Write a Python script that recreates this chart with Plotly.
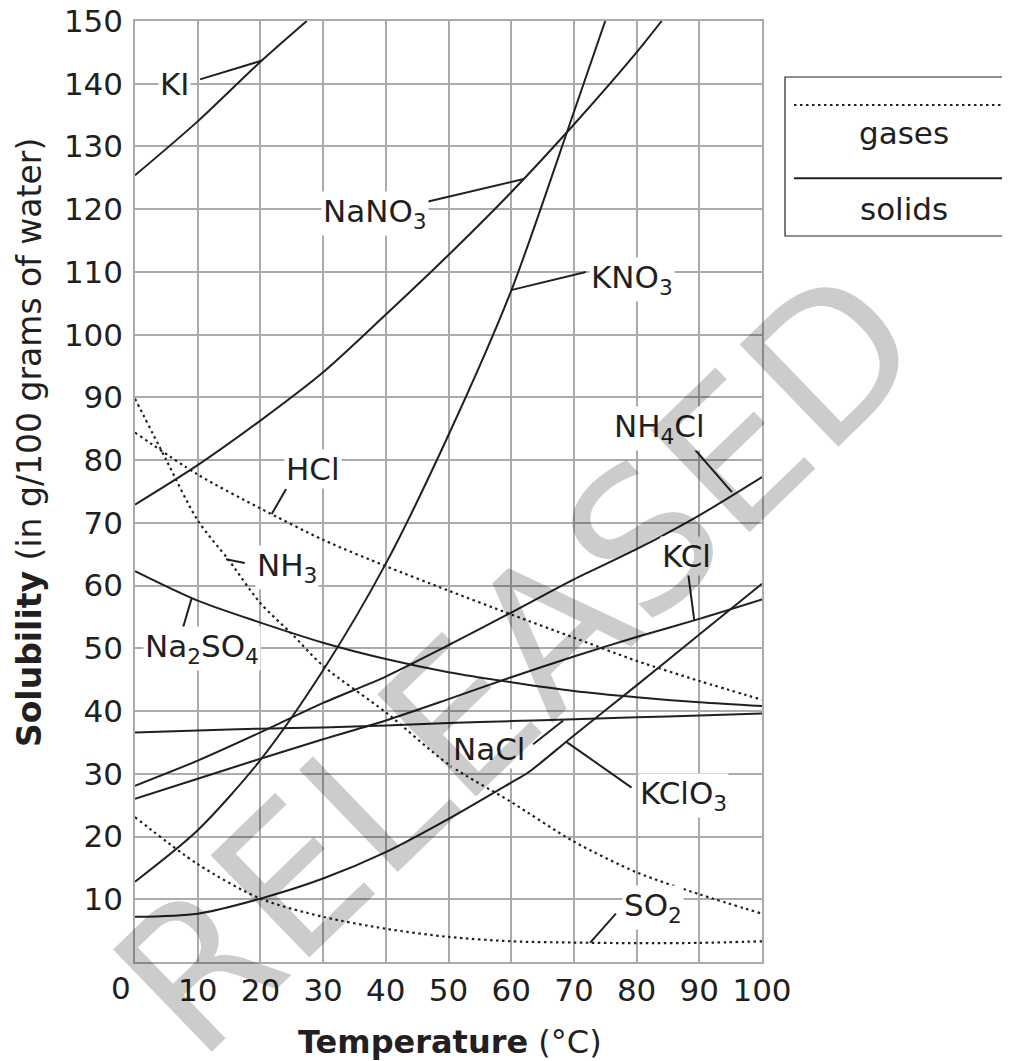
import plotly.graph_objects as go

# ---------------- data ----------------
T = [0, 10, 20, 30, 40, 50, 60, 70, 80, 90, 100]

KI_T = [0, 10, 20, 27.4]
KI = [125.4, 134, 143.5, 150]

NaNO3_T = [0, 10, 20, 30, 40, 50, 60, 70, 80, 84]
NaNO3 = [72.9, 79.2, 86.3, 94, 103.2, 112.7, 122.7, 133.5, 145, 150]

KNO3_T = [0, 10, 20, 30, 40, 50, 60, 70, 75]
KNO3 = [12.8, 21, 32.2, 46.5, 63.5, 84, 107, 135.5, 150]

NH4Cl = [28.1, 32.1, 36.6, 41.3, 45.5, 50.5, 55.7, 61, 65.8, 71.2, 77.3]
KCl = [26, 29.2, 32.4, 35.5, 38.5, 41.9, 45.4, 48.7, 51.8, 54.7, 57.8]
NaCl = [36.6, 36.9, 37.2, 37.4, 37.7, 38.1, 38.4, 38.7, 39, 39.3, 39.6]
Na2SO4 = [62.3, 57.6, 54.1, 50.9, 48.3, 46.2, 44.6, 43.2, 42.2, 41.4, 40.8]

KClO3_T = [0, 10, 20, 30, 40, 50, 60, 62.7, 70, 80, 90, 100]
KClO3 = [7.2, 7.7, 10.1, 13.3, 17.5, 22.8, 28.6, 30.2, 36.1, 44.1, 52.2, 60.3]

HCl = [84.4, 77.7, 72.3, 67.3, 63.1, 59.2, 55.4, 51.7, 48, 44.8, 41.8]

NH3_T = [0, 5, 10, 15, 20, 25, 30, 40, 50, 60, 70, 80, 90, 100]
NH3 = [89.8, 80, 70.4, 64, 57.2, 52.3, 47.2, 39.8, 31.5, 25.5, 19.2, 14.3, 10.8, 7.7]

SO2 = [23.1, 15.6, 10.1, 7.2, 5.3, 4.0, 3.3, 3.1, 3.0, 3.05, 3.3]

x_ticks = [10, 20, 30, 40, 50, 60, 70, 80, 90, 100]
y_ticks = [10, 20, 30, 40, 50, 60, 70, 80, 90, 100, 110, 120, 130, 140, 150]

solids = [
    ("KI", KI_T, KI), ("NaNO3", NaNO3_T, NaNO3), ("KNO3", KNO3_T, KNO3),
    ("NH4Cl", T, NH4Cl), ("KCl", T, KCl), ("NaCl", T, NaCl),
    ("Na2SO4", T, Na2SO4), ("KClO3", KClO3_T, KClO3),
]
gases = [("HCl", T, HCl), ("NH3", NH3_T, NH3), ("SO2", T, SO2)]

# labels: text, anchor (left x, top y in data units), leader from -> to
label_text = ["KI", "NaNO<sub>3</sub>", "KNO<sub>3</sub>", "HCl", "NH<sub>3</sub>",
              "Na<sub>2</sub>SO<sub>4</sub>", "NH<sub>4</sub>Cl", "KCl", "NaCl",
              "KClO<sub>3</sub>", "SO<sub>2</sub>"]
label_pos = [(3.67, 143.1), (29.67, 122.9), (72.4, 112.4), (23.8, 81.8), (19.1, 66.4),
             (1.28, 53.6), (76.1, 88.6), (83.7, 67.9), (50.4, 37.1), (80.2, 30.1),
             (77.7, 12.2)]
leaders = [((10.37, 140.7), (20.25, 143.7)), ((46.6, 121.2), (62.0, 124.8)),
           ((71.9, 110.0), (59.97, 107.1)), ((24.1, 75.4), (21.8, 71.4)),
           ((17.5, 63.6), (14.5, 64.2)), ((7.6, 53.1), (9.04, 58.0)),
           ((88.5, 82.6), (95.2, 74.9)), ((88.2, 62.1), (89.2, 54.4)),
           ((63.5, 34.7), (68.3, 38.5)), ((79.2, 27.8), (68.8, 35.1)),
           ((76.7, 7.7), (72.6, 3.1))]

INK = "#231f20"
GRID = "#ababab"
FONT = "DejaVu Sans"
DOT = "2.5px,3.5px"

fig = go.Figure()
for name, xs, ys in solids:
    fig.add_trace(go.Scatter(x=xs, y=ys, mode="lines", name=name,
                             line=dict(color=INK, width=2, shape="spline", smoothing=0.8),
                             showlegend=False, hoverinfo="skip"))
for name, xs, ys in gases:
    fig.add_trace(go.Scatter(x=xs, y=ys, mode="lines", name=name,
                             line=dict(color=INK, width=2.2, dash=DOT, shape="spline", smoothing=0.8),
                             showlegend=False, hoverinfo="skip"))

shapes = []
for (x0, y0), (x1, y1) in leaders:
    shapes.append(dict(type="line", xref="x", yref="y", x0=x0, y0=y0, x1=x1, y1=y1,
                       line=dict(color=INK, width=2), layer="above"))

# key box (top right)
shapes.append(dict(type="rect", xref="paper", yref="paper", x0=1.0367, x1=1.42,
                   y0=0.7715, y1=0.9405, line=dict(color=INK, width=1.2)))
shapes.append(dict(type="line", xref="paper", yref="paper", x0=1.051, x1=1.42,
                   y0=0.9107, y1=0.9107, line=dict(color=INK, width=2, dash=DOT)))
shapes.append(dict(type="line", xref="paper", yref="paper", x0=1.051, x1=1.42,
                   y0=0.8328, y1=0.8328, line=dict(color=INK, width=2)))

annotations = []
for txt, (lx, ly) in zip(label_text, label_pos):
    annotations.append(dict(x=lx, y=ly, xref="x", yref="y", text=txt, showarrow=False,
                            xanchor="left", yanchor="top", bgcolor="white",
                            font=dict(family=FONT, size=31, color=INK)))

def ptext(x, y, text, size=31, angle=0, color=INK):
    return dict(x=x, y=y, xref="paper", yref="paper", text=text, showarrow=False,
                xanchor="center", yanchor="middle", textangle=angle,
                font=dict(family=FONT, size=size, color=color))

annotations += [
    ptext(1.2265, 0.8806, "gases"),
    ptext(1.2265, 0.7999, "solids"),
    ptext(-0.0223, -0.0278, "0"),
    ptext(0.5024, -0.085, "<b>Temperature</b> (°C)", size=32),
    ptext(-0.169, 0.5515, "<b>Solubility</b> (in g/100 grams of water)", size=33, angle=-90),
    ptext(0.612, 0.319, "RELEASED", size=195, angle=-44, color="rgba(0,0,0,0.2)"),
]

fig.update_layout(
    width=1010, height=1061,
    margin=dict(l=127, r=256, t=13, b=107),
    paper_bgcolor="white", plot_bgcolor="white",
    font=dict(family=FONT, size=31, color=INK),
    shapes=shapes, annotations=annotations, showlegend=False,
)
fig.update_xaxes(range=[0, 100], tickvals=x_ticks, showgrid=True, gridcolor=GRID, gridwidth=1.5,
                 showline=True, linecolor=GRID, linewidth=1.5, mirror=True, zeroline=False,
                 automargin=False, ticks="", ticklabelstandoff=0, ticklabeloverflow="allow",
                 tickfont=dict(family=FONT, size=31, color=INK))
fig.update_yaxes(range=[0, 150], tickvals=y_ticks, showgrid=True, gridcolor=GRID, gridwidth=1.5,
                 showline=True, linecolor=GRID, linewidth=1.5, mirror=True, zeroline=False,
                 automargin=False, ticks="", ticklabelstandoff=4, ticklabeloverflow="allow",
                 tickfont=dict(family=FONT, size=31, color=INK))

fig.write_html("out.html")
